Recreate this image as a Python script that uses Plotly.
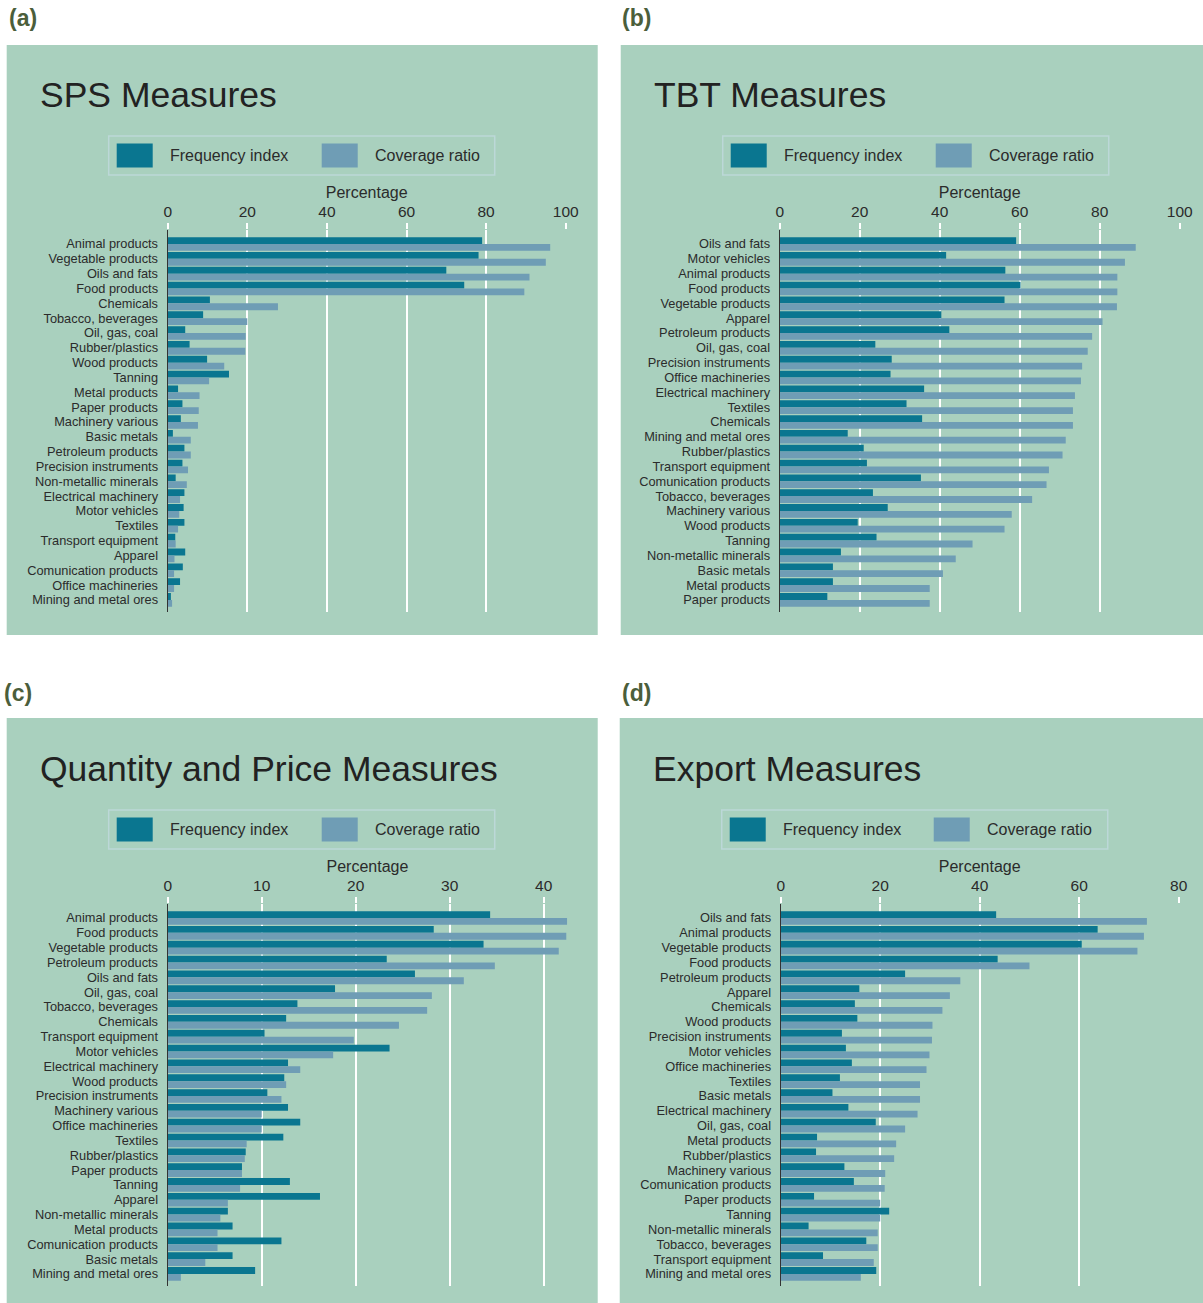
import plotly.graph_objects as go

# Figure drawn edge-to-edge in the page; the photographed page maps page-x -> image-x
# as  img = X0 + SX * page  (measured), vertical is 1:1.
X0, SX = 3.3, 0.986
W, H = 1217, 1303

# ---------------- data ----------------
sps_cats = ["Animal products", "Vegetable products", "Oils and fats", "Food products", "Chemicals",
            "Tobacco, beverages", "Oil, gas, coal", "Rubber/plastics", "Wood products", "Tanning",
            "Metal products", "Paper products", "Machinery various", "Basic metals", "Petroleum products",
            "Precision instruments", "Non-metallic minerals", "Electrical machinery", "Motor vehicles",
            "Textiles", "Transport equipment", "Apparel", "Comunication products", "Office machineries",
            "Mining and metal ores"]
sps_freq = [79.0, 78.1, 70.0, 74.5, 10.6, 8.9, 4.4, 5.5, 9.9, 15.4, 2.6, 3.7, 3.3, 1.3, 4.2,
            3.7, 2.0, 4.2, 4.0, 4.2, 1.9, 4.4, 3.8, 3.1, 0.8]
sps_cov = [96.1, 95.0, 90.9, 89.6, 27.7, 20.0, 19.6, 19.5, 14.2, 10.4, 8.0, 7.8, 7.6, 5.8, 5.8,
           5.1, 4.8, 3.1, 2.9, 2.6, 2.0, 1.7, 1.6, 1.6, 1.1]

tbt_cats = ["Oils and fats", "Motor vehicles", "Animal products", "Food products", "Vegetable products",
            "Apparel", "Petroleum products", "Oil, gas, coal", "Precision instruments", "Office machineries",
            "Electrical machinery", "Textiles", "Chemicals", "Mining and metal ores", "Rubber/plastics",
            "Transport equipment", "Comunication products", "Tobacco, beverages", "Machinery various",
            "Wood products", "Tanning", "Non-metallic minerals", "Basic metals", "Metal products",
            "Paper products"]
tbt_freq = [59.1, 41.6, 56.4, 60.2, 56.2, 40.4, 42.4, 23.9, 28.0, 27.7, 36.1, 31.7, 35.6, 17.0, 21.0,
            21.8, 35.3, 23.3, 27.0, 19.5, 24.2, 15.3, 13.3, 13.3, 11.9]
tbt_cov = [89.0, 86.3, 84.4, 84.4, 84.3, 80.7, 78.1, 77.0, 75.6, 75.3, 73.8, 73.3, 73.3, 71.5, 70.7,
           67.3, 66.7, 63.1, 58.0, 56.2, 48.2, 44.0, 40.8, 37.5, 37.5]

qp_cats = ["Animal products", "Food products", "Vegetable products", "Petroleum products", "Oils and fats",
           "Oil, gas, coal", "Tobacco, beverages", "Chemicals", "Transport equipment", "Motor vehicles",
           "Electrical machinery", "Wood products", "Precision instruments", "Machinery various",
           "Office machineries", "Textiles", "Rubber/plastics", "Paper products", "Tanning", "Apparel",
           "Non-metallic minerals", "Metal products", "Comunication products", "Basic metals",
           "Mining and metal ores"]
qp_freq = [34.3, 28.3, 33.6, 23.3, 26.3, 17.8, 13.8, 12.6, 10.3, 23.6, 12.8, 12.4, 10.6, 12.8, 14.1,
           12.3, 8.3, 7.9, 13.0, 16.2, 6.4, 6.9, 12.1, 6.9, 9.3]
qp_cov = [42.5, 42.4, 41.6, 34.8, 31.5, 28.1, 27.6, 24.6, 19.8, 17.6, 14.1, 12.6, 12.1, 10.0, 10.0,
          8.4, 8.2, 7.9, 7.7, 6.4, 5.6, 5.3, 5.3, 4.0, 1.4]

exp_cats = ["Oils and fats", "Animal products", "Vegetable products", "Food products", "Petroleum products",
            "Apparel", "Chemicals", "Wood products", "Precision instruments", "Motor vehicles",
            "Office machineries", "Textiles", "Basic metals", "Electrical machinery", "Oil, gas, coal",
            "Metal products", "Rubber/plastics", "Machinery various", "Comunication products",
            "Paper products", "Tanning", "Non-metallic minerals", "Tobacco, beverages",
            "Transport equipment", "Mining and metal ores"]
exp_freq = [43.3, 63.7, 60.5, 43.6, 25.0, 15.8, 14.9, 15.4, 12.3, 13.1, 14.3, 11.9, 10.4, 13.6, 19.1,
            7.3, 7.1, 12.8, 14.7, 6.7, 21.8, 5.6, 17.2, 8.5, 19.2]
exp_cov = [73.6, 73.0, 71.7, 50.0, 36.1, 34.0, 32.5, 30.5, 30.4, 29.9, 29.3, 28.0, 28.0, 27.5, 25.0,
           23.2, 22.8, 21.0, 20.9, 20.0, 20.0, 19.5, 19.5, 18.7, 16.1]

titles = ["SPS Measures", "TBT Measures", "Quantity and Price Measures", "Export Measures"]
panel_labels = ["(a)", "(b)", "(c)", "(d)"]
series_names = ["Frequency index", "Coverage ratio"]
x_ranges = [[0, 100], [0, 100], [0, 42.5], [0, 80]]
x_dticks = [20, 20, 10, 20]

# ---------------- styling ----------------
FREQ_COLOR = "#0a7690"
COV_COLOR = "#6f9db5"
BG = "#a9d0be"
TXT = "#2b2b2b"
FONT = "Arial, Liberation Sans, sans-serif"


def fx(p):
    return ((p - X0) / SX) / W


def fy(p):
    return 1 - p / H


panels = [
    dict(cats=sps_cats, freq=sps_freq, cov=sps_cov, bg=(6, 45, 597, 635), xdom=(167, 565),
         ydom=(230, 612), title_xy=(41, 95), label_xy=(8, 18), leg=(108, 136, 494, 175), leg2=321),
    dict(cats=tbt_cats, freq=tbt_freq, cov=tbt_cov, bg=(620, 45, 1210, 635), xdom=(779, 1179),
         ydom=(230, 612), title_xy=(655, 95), label_xy=(621, 18), leg=(722, 136, 1108, 175), leg2=935),
    dict(cats=qp_cats, freq=qp_freq, cov=qp_cov, bg=(6, 718, 597, 1310), xdom=(167, 566.5),
         ydom=(904, 1286), title_xy=(41, 769), label_xy=(3, 693), leg=(108, 810, 494, 849), leg2=321),
    dict(cats=exp_cats, freq=exp_freq, cov=exp_cov, bg=(619, 718, 1210, 1310), xdom=(780, 1178),
         ydom=(904, 1286), title_xy=(654, 769), label_xy=(621, 693), leg=(721, 810, 1107, 849), leg2=933),
]

fig = go.Figure()
shapes = []
annotations = []
layout_axes = {}

for i, p in enumerate(panels):
    n = i + 1
    xa = "x" if n == 1 else f"x{n}"
    ya = "y" if n == 1 else f"y{n}"
    xkey = "xaxis" if n == 1 else f"xaxis{n}"
    ykey = "yaxis" if n == 1 else f"yaxis{n}"

    fig.add_trace(go.Bar(y=p["cats"], x=p["freq"], orientation="h", name=series_names[0],
                         marker=dict(color=FREQ_COLOR, line=dict(width=0)),
                         xaxis=xa, yaxis=ya, showlegend=False))
    fig.add_trace(go.Bar(y=p["cats"], x=p["cov"], orientation="h", name=series_names[1],
                         marker=dict(color=COV_COLOR, line=dict(width=0)),
                         xaxis=xa, yaxis=ya, showlegend=False))

    top, bot = p["ydom"]
    first_lab = top + 14
    spacing = 14.83
    r_top = -(first_lab - top) / spacing
    r_bot = (bot - top) / spacing + r_top

    layout_axes[xkey] = dict(
        domain=[fx(p["xdom"][0]), fx(p["xdom"][1])], anchor=ya, side="top",
        range=x_ranges[i], dtick=x_dticks[i], tick0=0,
        showgrid=True, gridcolor="white", gridwidth=2, zeroline=False, showline=False,
        ticks="outside", ticklen=6, tickcolor="white", tickwidth=2,
        tickfont=dict(family=FONT, size=15.5, color=TXT),
        title=dict(text="Percentage", font=dict(family=FONT, size=16, color=TXT), standoff=0),
        fixedrange=True,
    )
    layout_axes[ykey] = dict(
        domain=[fy(bot), fy(top)], anchor=xa, type="category",
        categoryorder="array", categoryarray=p["cats"],
        tickmode="array", tickvals=p["cats"], ticktext=p["cats"],
        range=[r_bot, r_top], showgrid=False, zeroline=False,
        showline=True, linecolor="#333333", linewidth=1.2,
        ticks="", ticklabelstandoff=6,
        tickfont=dict(family=FONT, size=12.8, color=TXT),
        fixedrange=True,
    )

    # panel background
    x0, y0, x1, y1 = p["bg"]
    shapes.append(dict(type="rect", xref="paper", yref="paper", x0=fx(x0), x1=fx(x1), y0=fy(y1), y1=fy(y0),
                       fillcolor=BG, line=dict(width=0), layer="below"))

    # legend box
    lx0, ly0, lx1, ly1 = p["leg"]
    shapes.append(dict(type="rect", xref="paper", yref="paper", x0=fx(lx0), x1=fx(lx1), y0=fy(ly1), y1=fy(ly0),
                       fillcolor="rgba(0,0,0,0)", line=dict(color="#bcd8d8", width=1.5), layer="below"))
    cy = (ly0 + ly1) / 2
    for sx, col, name in [(lx0 + 8, FREQ_COLOR, series_names[0]), (p["leg2"], COV_COLOR, series_names[1])]:
        shapes.append(dict(type="rect", xref="paper", yref="paper", x0=fx(sx), x1=fx(sx + 36),
                           y0=fy(cy + 12), y1=fy(cy - 12), fillcolor=col, line=dict(width=0)))
        annotations.append(dict(text=name, xref="paper", yref="paper", x=fx(sx + 51), y=fy(cy),
                                xanchor="left", yanchor="middle", showarrow=False,
                                font=dict(family=FONT, size=16, color=TXT)))

    # title
    tx, ty = p["title_xy"]
    annotations.append(dict(text=titles[i], xref="paper", yref="paper", x=fx(tx - 4), y=fy(ty),
                            xanchor="left", yanchor="middle", showarrow=False,
                            font=dict(family=FONT, size=35.5, color="#222222")))
    # panel label
    lx, lyy = p["label_xy"]
    annotations.append(dict(text="<b>" + panel_labels[i] + "</b>", xref="paper", yref="paper",
                            x=fx(lx - 2), y=fy(lyy), xanchor="left", yanchor="middle", showarrow=False,
                            font=dict(family=FONT, size=23, color="#4b5e3b")))

fig.update_layout(
    width=W, height=H, margin=dict(l=0, r=0, t=0, b=0),
    paper_bgcolor="white", plot_bgcolor="rgba(0,0,0,0)",
    barmode="group", bargap=0.08, bargroupgap=0.0,
    shapes=shapes, annotations=annotations, showlegend=False,
    font=dict(family=FONT, color=TXT),
    **layout_axes,
)

fig.write_html(
    "out.html",
    config={"displayModeBar": False},
    post_script=("document.body.style.margin='0';document.body.style.overflow='hidden';"),
)
